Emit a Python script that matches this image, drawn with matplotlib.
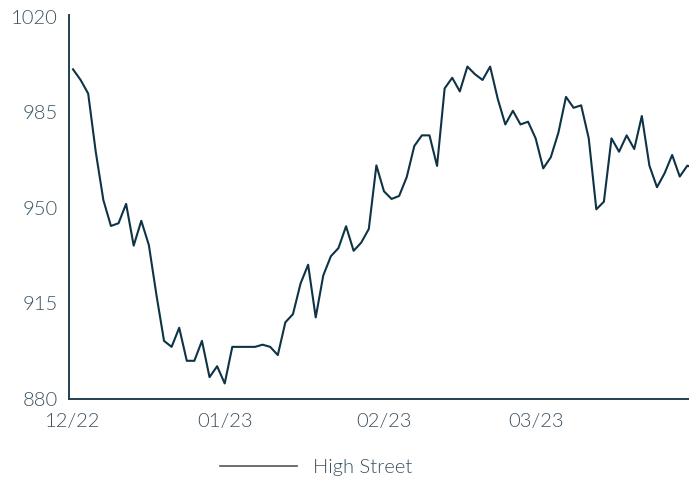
import matplotlib
matplotlib.use("Agg")
import matplotlib.pyplot as plt
import numpy as np

# High Street index, one value per trading day (Dec 2022 - Mar 2023)
highStreet = [
    1000.8, 996.9, 991.9, 970.5, 952.9, 943.4, 944.4, 951.5, 936.2, 945.3,
    936.4, 918.1, 901.3, 899.1, 906.1, 894.0, 894.0, 901.3, 888.0, 892.0,
    885.7, 899.1, 899.1, 899.1, 899.1, 899.9, 899.1, 896.1, 908.1, 911.1,
    922.3, 929.2, 909.9, 925.3, 932.3, 935.3, 943.3, 934.3, 937.3, 942.3,
    965.6, 956.1, 953.3, 954.4, 961.3, 972.7, 976.6, 976.6, 965.4, 993.8,
    997.7, 992.7, 1001.8, 999.0, 996.9, 1001.8, 990.0, 980.6, 985.6, 980.6,
    981.6, 975.5, 964.5, 968.6, 977.6, 990.7, 986.7, 987.6, 975.5, 949.5,
    952.3, 975.5, 970.6, 976.6, 971.6, 983.7, 965.5, 957.6, 962.7, 969.4,
    961.5, 965.5, 964.5,
]
# first trading day of each month and its label
monthStart = [0, 20, 41, 61]
monthLabels = ["12/22", "01/23", "02/23", "03/23"]
yTicks = [880, 915, 950, 985, 1020]

lineColor = "#0e3346"
textColor = "#3a5161"

plt.rcParams["font.family"] = ["Lato", "DejaVu Sans"]
plt.rcParams["font.weight"] = 300

fig = plt.figure(figsize=(6.89, 4.79), dpi=100)
ax = fig.add_axes([69 / 689, 80 / 479, 620 / 689, 384 / 479])

xValues = np.arange(len(highStreet))
ax.plot(xValues, highStreet, color=lineColor, linewidth=1.5, label="High Street")

ax.set_xlim(-0.53, 81.22)
ax.set_ylim(880, 1020.7)
ax.set_xticks(monthStart)
ax.set_xticklabels(monthLabels)
ax.set_yticks(yTicks)

for side in ["top", "right"]:
    ax.spines[side].set_visible(False)
for side in ["left", "bottom"]:
    ax.spines[side].set_color("#23404f")
    ax.spines[side].set_linewidth(1.4)

ax.tick_params(axis="both", length=0, labelsize=14.5, labelcolor=textColor)
ax.tick_params(axis="y", pad=8)
ax.tick_params(axis="x", pad=10)

legendObject = fig.legend(
    loc="center",
    bbox_to_anchor=(316 / 689, 1 - 467 / 479),
    frameon=False,
    fontsize=14.5,
    handlelength=3.8,
    handletextpad=0.8,
)
for legendLine in legendObject.get_lines():
    legendLine.set_color("#555555")
    legendLine.set_linewidth(1.2)
for legendText in legendObject.get_texts():
    legendText.set_color(textColor)

fig.savefig("out.png", dpi=100)
